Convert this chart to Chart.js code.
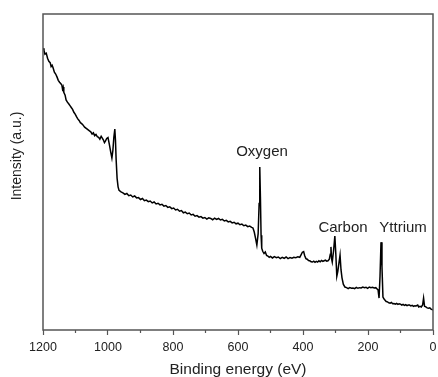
<!DOCTYPE html>
<html>
<head>
<meta charset="utf-8">
<script src="https://cdn.jsdelivr.net/npm/chart.js@4"></script>
<style>
  html, body { margin: 0; padding: 0; background: #fff; }
  .chart { width: 438px; height: 377px; }
</style>
</head>
<body>
<div class="chart"><canvas id="xps"></canvas></div>
<script>
// survey scan, binding energy in eV (high to low) and intensity in arbitrary units
const energy = [
  1200, 1197, 1194, 1190, 1186, 1182, 1178, 1175, 1172, 1169, 1165, 1161, 1157, 1153, 1149, 1145,
  1142, 1140, 1138, 1136, 1132, 1129, 1125, 1121, 1117, 1113, 1109, 1105, 1101, 1097, 1093, 1089,
  1085, 1081, 1077, 1072, 1067, 1062, 1057, 1053, 1049, 1045, 1041, 1037, 1033, 1029, 1025, 1021,
  1018, 1014, 1011, 1008, 1004, 1000, 996, 992, 988, 985, 982, 979, 977, 975, 972, 969, 966,
  960, 954, 948, 942, 936, 930, 924, 918, 912, 906, 900, 894, 888, 882, 876, 870, 864, 858, 852,
  846, 840, 834, 828, 822, 816, 810, 804, 798, 792, 786, 780, 774, 768, 762, 756, 750, 744, 738,
  732, 726, 720, 714, 708, 702, 696, 690, 684, 678, 672, 666, 660, 654, 648, 642, 636, 630, 624,
  618, 612, 606, 600, 594, 588, 582, 576, 570, 564, 558, 554, 550, 546, 542, 538, 535, 533, 531,
  529, 527, 524, 520, 516, 512, 508, 504, 500, 494, 488, 482, 476, 470, 464, 458, 452, 446, 440,
  434, 428, 422, 416, 410, 406, 402, 398, 395, 391, 387, 383, 379, 375, 371, 367, 363, 359, 355,
  351, 347, 343, 339, 335, 331, 327, 323, 319, 316, 314, 312, 310, 306, 302, 299, 296, 293, 289,
  286, 283, 280, 276, 271, 266, 261, 256, 251, 246, 241, 236, 231, 226, 221, 216, 211, 206, 201,
  196, 191, 186, 181, 176, 172, 169, 166, 163, 160, 157, 154, 151, 148, 144, 140, 136, 132, 128,
  124, 120, 116, 112, 108, 104, 100, 96, 92, 88, 84, 80, 76, 72, 68, 64, 60, 56, 52, 47, 44,
  40, 36, 32, 29, 26, 22, 18, 14, 10, 6, 3, 0
];
const intensity = [
  89.2, 88.5, 87.3, 87.6, 86.0, 85.0, 84.6, 83.4, 83.8, 83.0, 81.6, 81.0, 80.1, 79.0, 78.4, 77.9,
  77.5, 76.3, 76.9, 75.2, 74.3, 72.8, 72.1, 71.6, 71.0, 70.4, 69.8, 68.9, 68.3, 67.5, 66.8, 66.3,
  65.6, 65.3, 64.9, 64.2, 63.8, 63.4, 63.0, 62.7, 62.0, 62.4, 61.5, 61.9, 61.2, 61.0, 60.4, 61.3,
  60.8, 60.1, 59.3, 59.8, 60.6, 60.9, 58.8, 56.5, 54.4, 56.8, 61.0, 63.6, 60.0, 54.0, 48.0, 45.3, 44.2,
  43.7, 43.4, 42.9, 43.2, 42.5, 42.7, 42.1, 42.4, 41.8, 41.9, 41.3, 41.6, 40.9, 41.1, 40.6, 40.8, 40.2, 40.5, 39.9,
  40.1, 39.6, 39.8, 39.2, 39.4, 38.8, 39.0, 38.4, 38.6, 38.0, 38.2, 37.6, 37.8, 37.1, 37.3, 36.8, 37.0, 36.4, 36.6,
  36.0, 36.2, 35.7, 35.9, 35.4, 35.6, 35.1, 35.5, 35.3, 34.9, 35.4, 35.0, 35.3, 34.8, 35.0, 34.5, 34.7, 34.2, 34.4,
  33.9, 34.1, 33.6, 33.8, 33.3, 33.5, 33.0, 33.2, 32.7, 32.9, 32.5, 32.3, 31.0, 29.0, 26.9, 30.5, 40.0, 51.6, 42.0,
  30.0, 25.9, 24.9, 24.2, 24.7, 23.6, 23.4, 23.0, 23.3, 22.8, 23.2, 22.9, 23.1, 22.6, 23.0, 22.7, 23.1, 22.6, 22.9,
  22.7, 23.0, 22.9, 23.2, 23.0, 23.8, 24.6, 24.8, 23.6, 22.6, 22.4, 22.0, 21.9, 21.6, 21.5, 21.8, 21.4, 21.7, 21.5,
  21.9, 21.6, 22.0, 21.7, 21.9, 22.1, 21.8, 21.9, 22.4, 24.0, 26.3, 22.5, 21.5, 25.0, 29.7, 24.0, 17.0, 18.5, 21.5,
  23.7, 19.0, 16.5, 14.5, 13.6, 13.4, 13.1, 13.4, 13.2, 13.3, 13.1, 13.5, 13.2, 13.4, 13.3, 13.6, 13.4, 13.5, 13.2,
  13.6, 13.4, 13.5, 13.3, 13.4, 13.0, 12.7, 10.1, 17.0, 27.8, 20.0, 10.4, 9.9, 9.5, 9.0, 8.9, 8.6, 8.5, 8.7,
  8.3, 8.4, 8.2, 8.4, 8.1, 8.3, 8.2, 7.9, 8.1, 7.8, 8.0, 7.7, 7.9, 7.9, 7.6, 7.8, 7.5, 7.7, 7.6, 7.9, 7.3,
  7.5, 7.3, 7.9, 10.1, 7.5, 7.3, 7.0, 6.9, 7.0, 6.6, 6.5, 6.3
];

// peak labels: text and the point (energy, intensity) its centre sits on
const peakNames = ['Oxygen', 'Carbon', 'Yttrium'];
const peakLabelEnergy = [526, 277, 92];
const peakLabelIntensity = [56.3, 32.3, 32.3];

const xTicks = [1200, 1000, 800, 600, 400, 200, 0];
const minorTicks = [1100, 900, 700, 500, 300, 100];

const frameColor = '#555';
const textColor = '#222';
const fontFamily = '"Liberation Sans", Arial, Helvetica, sans-serif';

Chart.defaults.font.family = fontFamily;
Chart.defaults.color = textColor;

// closed box around the plot, short minor ticks, y title and the peak names
const frame = {
  id: 'frame',
  afterDraw(chart) {
    const { ctx, chartArea: a, scales } = chart;
    ctx.save();
    ctx.strokeStyle = frameColor;
    ctx.lineWidth = 1.5;
    ctx.strokeRect(a.left, a.top, a.right - a.left, a.bottom - a.top);
    ctx.lineWidth = 1.2;
    minorTicks.forEach((v) => {
      const x = scales.x.getPixelForValue(v);
      ctx.beginPath();
      ctx.moveTo(x, a.bottom);
      ctx.lineTo(x, a.bottom + 3);
      ctx.stroke();
    });
    ctx.fillStyle = textColor;
    ctx.textAlign = 'center';
    ctx.textBaseline = 'middle';
    ctx.font = '15px ' + fontFamily;
    peakNames.forEach((name, i) => {
      ctx.fillText(name,
        scales.x.getPixelForValue(peakLabelEnergy[i]),
        scales.y.getPixelForValue(peakLabelIntensity[i]));
    });
    ctx.font = '14px ' + fontFamily;
    ctx.translate(17.5, 156);
    ctx.rotate(-Math.PI / 2);
    ctx.fillText('Intensity (a.u.)', 0, 0);
    ctx.restore();
  },
};

new Chart(document.getElementById('xps'), {
  type: 'line',
  data: {
    datasets: [{
      data: energy.map((e, i) => ({ x: e, y: intensity[i] })),
      borderColor: '#000',
      borderWidth: 1.5,
      pointRadius: 0,
      tension: 0,
      fill: false,
    }],
  },
  options: {
    responsive: true,
    maintainAspectRatio: false,
    animation: false,
    layout: { padding: { top: 14, right: 5, left: 0, bottom: 0 } },
    plugins: { legend: { display: false }, tooltip: { enabled: false } },
    scales: {
      x: {
        type: 'linear',
        reverse: true,
        min: 0,
        max: 1200,
        afterFit: (scale) => {
          scale.height = 47;
          scale.paddingLeft = 0;
          scale.paddingRight = 0;
        },
        afterBuildTicks: (scale) => { scale.ticks = xTicks.map((v) => ({ value: v })); },
        ticks: {
          autoSkip: false,
          maxRotation: 0,
          padding: 5,
          font: { size: 12.5 },
          color: textColor,
          callback: (v) => String(v),
        },
        grid: {
          drawOnChartArea: false,
          drawTicks: true,
          tickLength: 5,
          tickColor: frameColor,
          tickWidth: 1.2,
        },
        border: { display: false },
        title: {
          display: true,
          text: 'Binding energy (eV)',
          font: { size: 15.5, lineHeight: 1 },
          color: textColor,
          padding: { top: 0, bottom: 0 },
        },
      },
      y: {
        min: 0,
        max: 100,
        afterFit: (scale) => { scale.width = 43; },
        ticks: { display: false },
        grid: { display: false },
        border: { display: false },
      },
    },
  },
  plugins: [frame],
});
</script>
</body>
</html>
